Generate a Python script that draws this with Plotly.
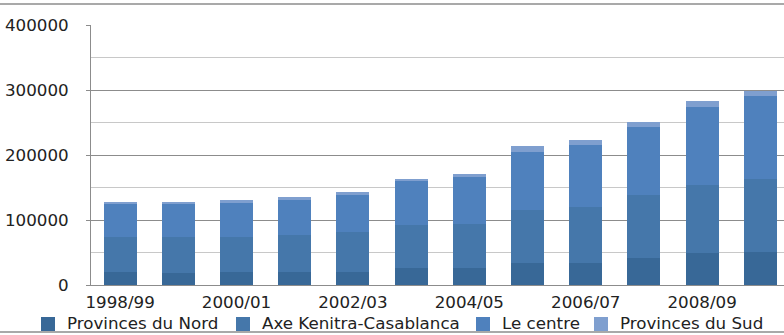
import plotly.graph_objects as go

categories = ["1998/99", "1999/00", "2000/01", "2001/02", "2002/03", "2003/04",
              "2004/05", "2005/06", "2006/07", "2007/08", "2008/09", "2009/10"]
nord = [20400, 18000, 20500, 20500, 20500, 25600, 25600, 33300, 33300, 40900, 48600, 51100]
axe = [53700, 56000, 53600, 56200, 61300, 66400, 69000, 81700, 86800, 97100, 104800, 112600]
centre = [51000, 51000, 52800, 53700, 56300, 68200, 71200, 90200, 94700, 104800, 121100, 127700]
sud = [2700, 2800, 3500, 5000, 5000, 3500, 5500, 8000, 8700, 7700, 8200, 7700]

series_names = ["Provinces du Nord", "Axe Kenitra-Casablanca", "Le centre", "Provinces du Sud"]
series_values = [nord, axe, centre, sud]
colors = ["#386897", "#4577aa", "#4f81bd", "#7f9fcf"]

tick_labels = categories[::2]
y_ticks = [0, 100000, 200000, 300000, 400000]

# legend layout (pixel positions of each entry's swatch left edge)
legend_swatch_px = [41, 236, 476, 594]

W, H = 784, 335
L, R, T, B = 91, 0, 25, 50
pw, ph = W - L - R, H - T - B
FS = 16.7


def px_x(px):
    return (px - L) / pw


def px_y(py):
    return (H - B - py) / ph


fig = go.Figure()
for name, vals, col in zip(series_names, series_values, colors):
    fig.add_trace(go.Bar(x=categories, y=vals, name=name, marker_color=col,
                         marker_line_width=0, showlegend=False))

shapes = [
    dict(type="line", xref="paper", yref="paper", x0=px_x(0), x1=1, y0=px_y(4),
         y1=px_y(4), line=dict(color="#8c8c8c", width=1.5)),
    dict(type="line", xref="paper", yref="paper", x0=px_x(0), x1=1, y0=px_y(332),
         y1=px_y(332), line=dict(color="#8c8c8c", width=1.5)),
]
annotations = []
for name, col, sx in zip(series_names, colors, legend_swatch_px):
    shapes.append(dict(type="rect", xref="paper", yref="paper",
                       x0=px_x(sx), x1=px_x(sx + 14), y0=px_y(331), y1=px_y(317),
                       fillcolor=col, line=dict(width=0)))
    annotations.append(dict(text=name, xref="paper", yref="paper",
                            x=px_x(sx + 24), y=px_y(323), xanchor="left", yanchor="middle",
                            showarrow=False, font=dict(size=FS, color="#222222")))

fig.update_layout(
    width=W, height=H,
    margin=dict(l=L, r=R, t=T, b=B, pad=0),
    barmode="stack", bargap=0.433,
    plot_bgcolor="white", paper_bgcolor="white",
    font=dict(family="DejaVu Sans", size=FS, color="#222222"),
    showlegend=False,
    xaxis=dict(range=[-0.5, -0.5 + pw / 58.2], tickvals=tick_labels, ticktext=tick_labels,
               showgrid=False, showline=True, linecolor="#8c8c8c", linewidth=1,
               ticks="", ticklabelstandoff=2, fixedrange=True),
    yaxis=dict(range=[0, 400000], tickvals=y_ticks, ticktext=[str(v) for v in y_ticks],
               showgrid=True, gridcolor="#8c8c8c", gridwidth=1,
               minor=dict(dtick=50000, showgrid=True, gridcolor="#c8c8c8", gridwidth=1),
               showline=True, linecolor="#8c8c8c", linewidth=1,
               ticks="outside", ticklen=4, tickcolor="#8c8c8c",
               ticklabelstandoff=14, zeroline=False),
    shapes=shapes,
    annotations=annotations,
)

fig.write_html("out.html")
